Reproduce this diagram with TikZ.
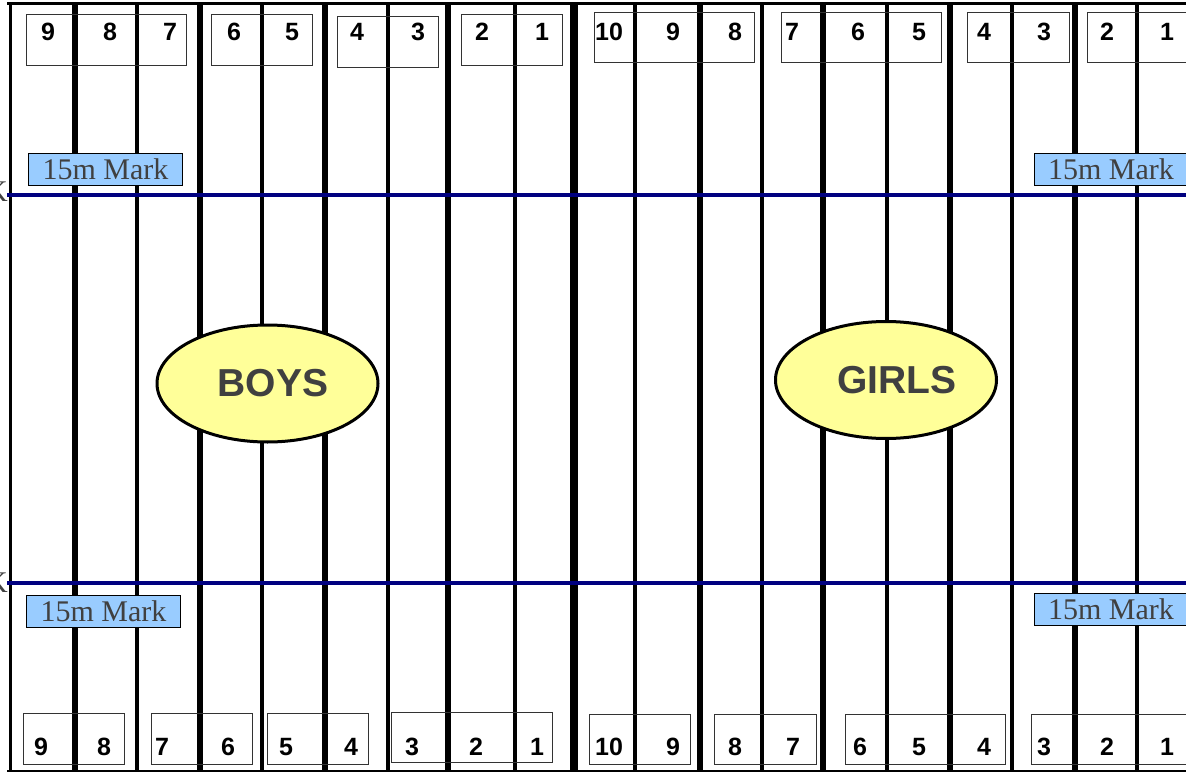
\documentclass[tikz,border=0pt]{standalone}
\usepackage{fontspec}
\setmainfont{Liberation Serif}
\setsansfont{Liberation Sans}
\usepackage{tikz}
\usetikzlibrary{shapes.geometric}

\definecolor{markblue}{RGB}{153,204,255}
\definecolor{navyline}{RGB}{0,0,128}
\definecolor{textgray}{RGB}{64,64,64}
\definecolor{teamyellow}{RGB}{255,255,153}

\begin{document}
\begin{tikzpicture}[x=1pt, y=-1pt,
  laneline/.style={line width=4pt},
  pairline/.style={line width=5.5pt},
  numbox/.style={draw=black!80, line width=1pt},
  num/.style={font=\sffamily\bfseries\fontsize{25}{29}\selectfont, inner sep=0pt},
  marklabel/.style={draw, fill=markblue, line width=0.8pt, minimum width=154pt, minimum height=32pt, inner sep=0pt, text=textgray, font=\fontsize{30}{34}\selectfont},
  markline/.style={navyline, line width=3.2pt},
  team/.style={ellipse, draw, line width=3pt, fill=teamyellow, minimum width=221pt, minimum height=117pt, inner sep=0pt, text=textgray, font=\sffamily\bfseries\fontsize{39}{44}\selectfont}]

  \useasboundingbox (0,0) rectangle (1186,773);
  \clip (0,0) rectangle (1186,773);
  \fill[white] (0,0) rectangle (1186,773);

  % pool outline
  \draw[line width=3pt] (7,4) -- (1190,4);
  \draw[line width=2.5pt] (7,771) -- (1190,771);
  \draw[line width=3pt] (10,4) -- (10,771);

  % lane lines
  \foreach \x in {137,262,388,515,635,762,887,1012,1137}
    \draw[laneline] (\x,4) -- (\x,771);
  \foreach \x in {75,200,325,448,700,823,950,1075}
    \draw[pairline] (\x,4) -- (\x,771);
  \draw[line width=8pt] (574,4) -- (574,771);

  % number boxes
  \foreach \a/\b/\c/\d in {26/15/186/66, 211/15/312/66, 337/17/438/68, 461/15/562/66,
      594/13/754/63, 781/13/941/63, 967/13/1069/63, 1087/13/1200/63,
      23/713/124/764, 151/713/252/764, 267/713/368/764, 391/712/552/762,
      589/714/690/764, 714/714/816/764, 845/714/1005/764, 1031/714/1200/764}
    \draw[numbox] (\a,\b) rectangle (\c,\d);

  % lane numbers
  \foreach \x/\n [count=\i] in {48/9,110/8,170/7,234/6,292/5,357/4,418/3,482/2,542/1,
      609/10,673/9,735/8,792/7,858/6,919/5,984/4,1044/3,1107/2,1167/1}
    \node[num] (t\i) at (\x,32) {\n};
  \foreach \x/\n [count=\i] in {41/9,104/8,162/7,228/6,286/5,351/4,412/3,476/2,537/1,
      609/10,673/9,735/8,793/7,860/6,919/5,984/4,1044/3,1107/2,1167/1}
    \node[num] (b\i) at (\x,747) {\n};

  % 15m lines
  \draw[markline] (7,195) -- (1190,195);
  \draw[markline] (7,583) -- (1190,583);
  \node[text=textgray, font=\fontsize{30}{34}\selectfont, anchor=east, inner sep=0pt] (k1) at (8,192) {K};
  \node[text=textgray, font=\fontsize{30}{34}\selectfont, anchor=east, inner sep=0pt] (k2) at (8,583) {K};

  \node[marklabel] (m1) at (105.5,169) {15m Mark};
  \node[marklabel] (m2) at (1111,169) {15m Mark};
  \node[marklabel] (m3) at (103.5,611) {15m Mark};
  \node[marklabel] (m4) at (1111,609.5) {15m Mark};

  \node[team] (boys) at (267.5,383.5) {\hspace*{11pt}BOYS};
  \node[team] (girls) at (886,380) {\hspace*{22pt}GIRLS};
\end{tikzpicture}
\end{document}
